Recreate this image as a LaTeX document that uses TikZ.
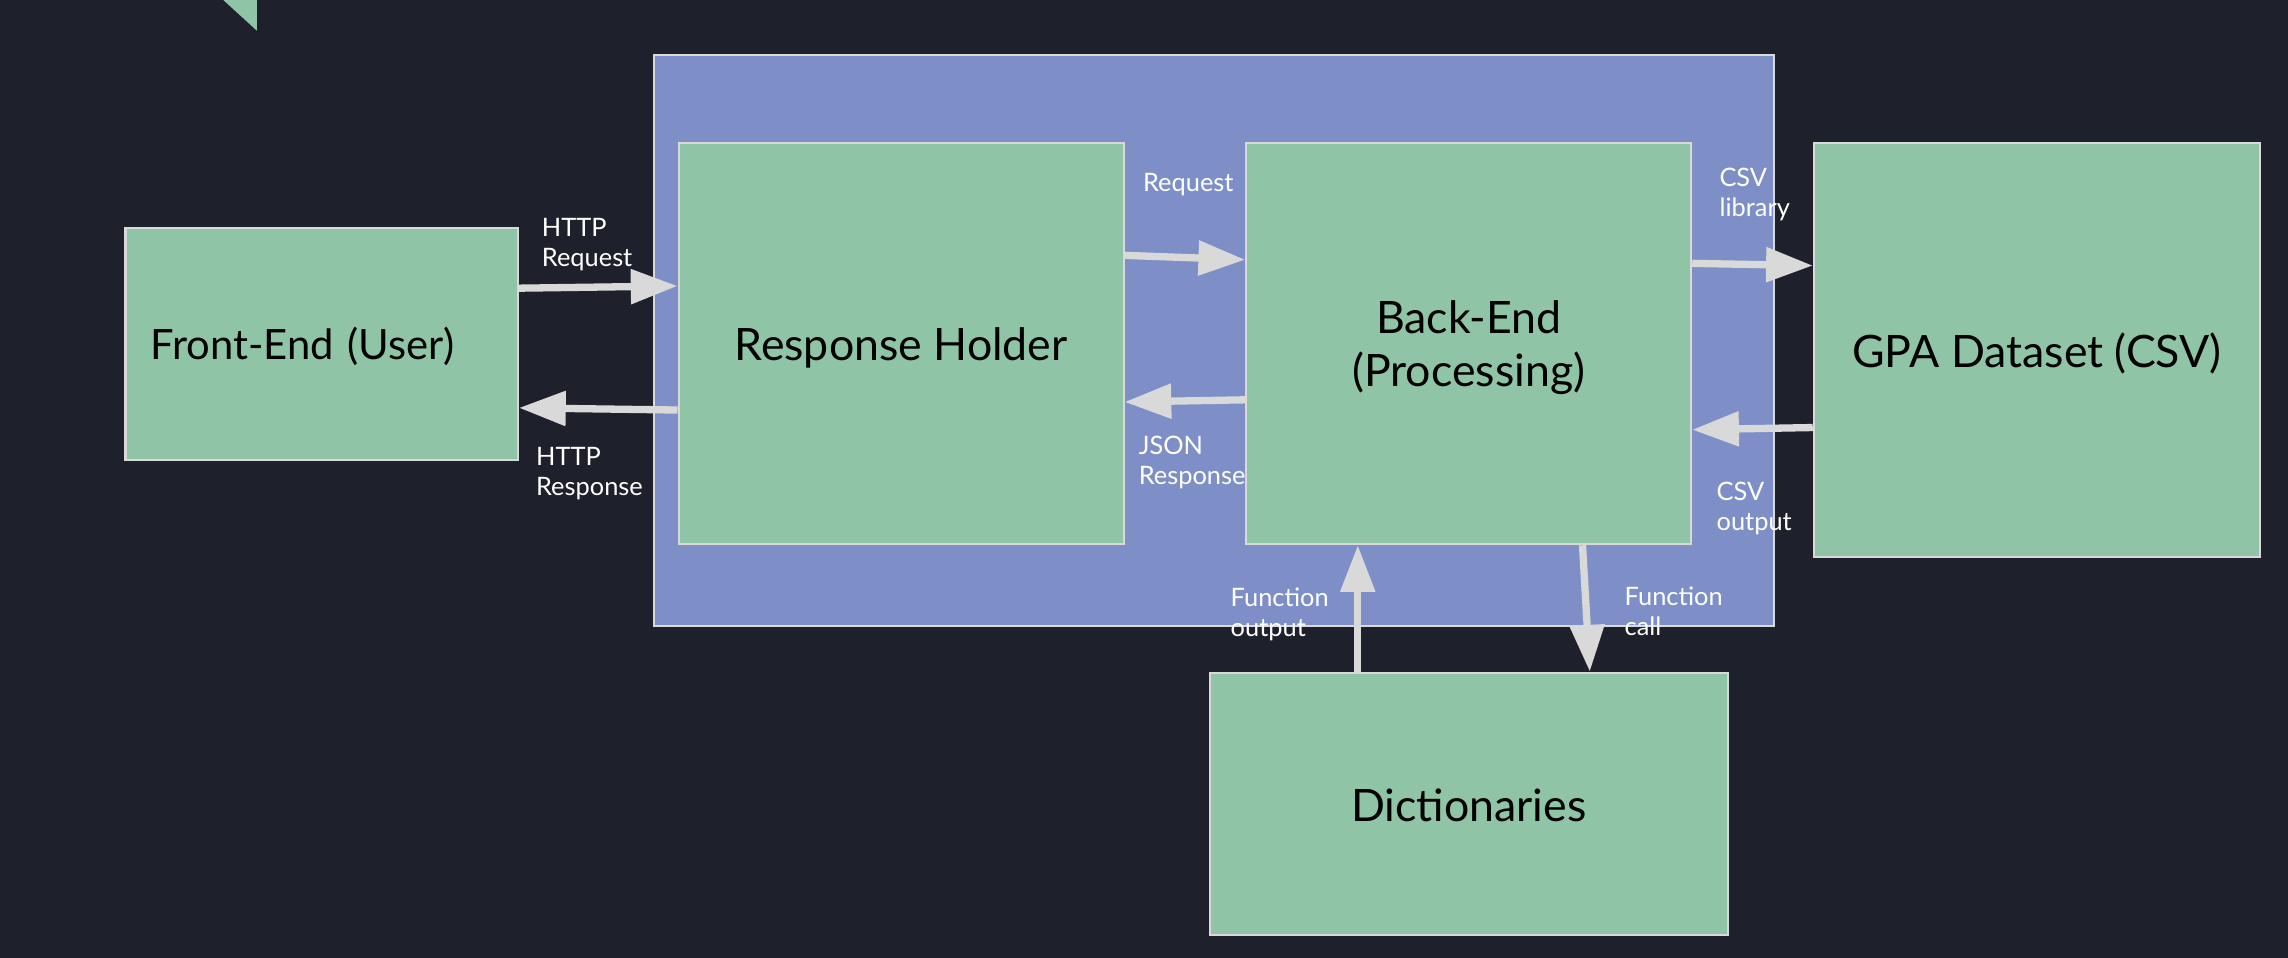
\documentclass[tikz,border=0pt]{standalone}
\usepackage{fontspec}
\setmainfont{Lato}
\usetikzlibrary{arrows.meta,calc}
\definecolor{bg}{HTML}{1E212B}
\definecolor{boxgreen}{HTML}{8FC4A6}
\definecolor{boxblue}{HTML}{7E8FC8}
\definecolor{edgegray}{HTML}{D9D9D9}
\begin{document}
\begin{tikzpicture}[x=0.5pt,y=-0.5pt,
  box/.style={draw=edgegray, line width=0.7pt, fill=boxgreen, inner sep=0pt, font=\fontsize{15.3}{18.25}\selectfont, align=center, text=black, text height=11.8pt, text depth=0pt},
  conn/.style={draw=edgegray, line width=2.5pt, -{Triangle[length=16pt,width=11.5pt]}},
  lbl/.style={text=white, font=\fontsize{8.7}{10.25}\selectfont, align=left, inner sep=0pt, anchor=base west}]
\fill[bg] (0,0) rectangle (1568,656.5);
\useasboundingbox (0,0) rectangle (1568,656.5);
\fill[boxgreen] (153,0) -- (176,0) -- (176,21) -- cycle;
\node[draw=edgegray, line width=0.7pt, fill=boxblue, minimum width=384pt, minimum height=195.5pt, inner sep=0pt] (outer) at (832,233.5) {};
\node[box, font=\fontsize{14.3}{18}\selectfont, text height=10.8pt, minimum width=134.5pt, minimum height=79.5pt, inner xsep=8.5pt, text width=117.5pt, align=left] (fe) at (220.5,235.5) {Front-End (User)};
\node[box, minimum width=152.5pt, minimum height=137.5pt] (rh) at (617.5,235.5) {Response Holder};
\node[box, text height=29.5pt, minimum width=152.5pt, minimum height=137.5pt] (be) at (1006.5,235.5) {Back-End\\(Processing)};
\node[box, minimum width=153pt, minimum height=142pt] (gpa) at (1396,240) {GPA Dataset (CSV)};
\node[box, minimum width=177.5pt, minimum height=90pt] (dict) at (1006.5,551) {Dictionaries};
\draw[conn] (fe.east |- 0,197.5) -- (rh.west |- 0,196);
\draw[conn] (rh.west |- 0,281) -- (fe.east |- 0,279.5);
\draw[conn] (rh.east |- 0,175) -- (be.west |- 0,178);
\draw[conn] (be.west |- 0,274) -- (rh.east |- 0,275.5);
\draw[conn] (be.east |- 0,180.5) -- (gpa.west |- 0,182);
\draw[conn] (gpa.west |- 0,293) -- (be.east |- 0,294.5);
\draw[conn] (dict.north -| 930.5,0) -- (be.south -| 930.5,0);
\draw[conn] (be.south -| 1084.5,0) -- (dict.north -| 1089.5,0);
\node[lbl] (lhttpreq) at (371,182.9) {HTTP\\Request};
\node[lbl] (lhttpres) at (367,339.5) {HTTP\\Response};
\node[lbl] (lreq) at (783,131) {Request};
\node[lbl] (ljson) at (780,332.3) {JSON\\Response};
\node[lbl] (lcsvlib) at (1178,148.5) {CSV\\library};
\node[lbl] (lcsvout) at (1176,363.8) {CSV\\output};
\node[lbl] (lfout) at (843,436.3) {Function\\output};
\node[lbl] (lfcall) at (1113,435.8) {Function\\call};
\end{tikzpicture}
\end{document}
